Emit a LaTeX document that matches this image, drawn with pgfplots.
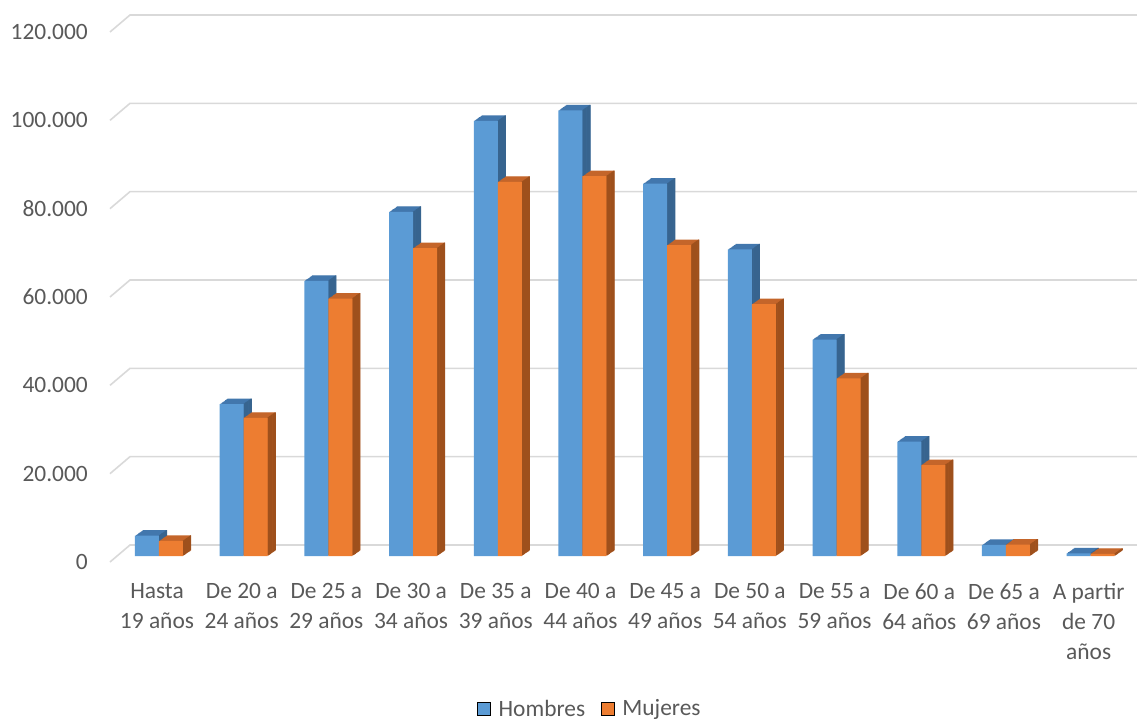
\documentclass[border=0pt]{standalone}
\usepackage{pgfplots}
\pgfplotsset{compat=1.18}
\usepackage{pgfplotstable}
\usepackage{fontspec}
\setmainfont{Carlito}
\definecolor{hblue}{HTML}{5B9BD5}
\definecolor{hbluetop}{HTML}{4277AD}
\definecolor{hblueside}{HTML}{37648F}
\definecolor{morange}{HTML}{ED7D31}
\definecolor{morangetop}{HTML}{C4652A}
\definecolor{morangeside}{HTML}{9E501C}
\definecolor{gridc}{HTML}{D9D9D9}
\definecolor{txtgray}{HTML}{595959}

\pgfplotstableread{
x h m
0 4600 3400
1 34400 31300
2 62300 58300
3 77900 69700
4 98500 84700
5 100900 86000
6 84300 70400
7 69400 57000
8 49000 40200
9 25900 20600
10 2500 2600
11 600 500
}\datatable

\begin{document}
\begin{tikzpicture}
\path[use as bounding box] (0,0) rectangle (1137bp,722bp);
\begin{axis}[
  at={(110bp,166bp)}, anchor=south west,
  scale only axis, width=1027bp, height=530bp,
  xmin=-0.5785, xmax=11.547, ymin=0, ymax=120000,
  clip=false,
  axis line style={draw=none},
  major tick length=0pt,
  tick style={draw=none},
  xtick={0,1,2,3,4,5,6,7,8,9,10,11},
  xticklabels={{Hasta\\19 años},{De 20 a\\24 años},{De 25 a\\29 años},{De 30 a\\34 años},{De 35 a\\39 años},{De 40 a\\44 años},{De 45 a\\49 años},{De 50 a\\54 años},{De 55 a\\59 años},{De 60 a\\64 años},{De 65 a\\69 años},{A partir\\de 70\\años}},
  ytick={0,20000,40000,60000,80000,100000,120000},
  scaled y ticks=false,
  yticklabel={\pgfmathprintnumber[fixed,precision=0,1000 sep={.},assume math mode=true]{\tick}},
  tick label style={font=\fontsize{23.5}{30}\selectfont, text=txtgray},
  xticklabel style={align=center, anchor=north, yshift=-24bp, xshift=-2bp},
  yticklabel style={anchor=east, inner sep=0pt, xshift=-22bp, yshift=-6bp},
  legend style={at={(0.4674,-0.288)}, anchor=center, legend columns=2, draw=none, fill=none,
    font=\fontsize{23.5}{28}\selectfont, text=txtgray,
    /tikz/every even column/.append style={column sep=14bp}},
  legend image code/.code={\fill[#1] (0bp,-6.5bp) rectangle (13bp,6.5bp); \path[draw=none,fill=none] (13bp,0bp) -- (19bp,0bp);},
]
% back wall grid lines
\pgfplotsinvokeforeach{0,20000,40000,60000,80000,100000,120000}{
  \draw[gridc, line width=1.6bp] ([yshift=-6bp]axis cs:-0.5785,#1) -- ([xshift=20bp,yshift=11bp]axis cs:-0.5785,#1) -- ([yshift=11bp]axis cs:11.547,#1);
}
% Hombres: top + side extrusion, then front
\pgfplotsinvokeforeach{1,2,3,4,5,6,7,8,9,10}{
  \addplot[ybar, bar width=24bp, bar shift=-12bp, fill=hbluetop, draw=none, forget plot,
    xshift={0.78bp*#1}, yshift={0.55bp*#1}] table[x=x,y=h]{\datatable};
}
\pgfplotsinvokeforeach{1,2,3,4,5,6,7,8,9,10}{
  \addplot[ybar, bar width=1.2bp, bar shift=-0.3bp, fill=hblueside, draw=none, forget plot,
    xshift={0.78bp*#1}, yshift={0.55bp*#1}] table[x=x,y=h]{\datatable};
}
\addplot[ybar, bar width=24bp, bar shift=-12bp, fill=hblue, draw=none, forget plot] table[x=x,y=h]{\datatable};
% Mujeres
\pgfplotsinvokeforeach{1,2,3,4,5,6,7,8,9,10}{
  \addplot[ybar, bar width=24bp, bar shift=12bp, fill=morangetop, draw=none, forget plot,
    xshift={0.78bp*#1}, yshift={0.55bp*#1}] table[x=x,y=m]{\datatable};
}
\pgfplotsinvokeforeach{1,2,3,4,5,6,7,8,9,10}{
  \addplot[ybar, bar width=1.2bp, bar shift=23.7bp, fill=morangeside, draw=none, forget plot,
    xshift={0.78bp*#1}, yshift={0.55bp*#1}] table[x=x,y=m]{\datatable};
}
\addplot[ybar, bar width=24bp, bar shift=12bp, fill=morange, draw=none, forget plot] table[x=x,y=m]{\datatable};
\addlegendimage{fill=hblue}
\addlegendentry{Hombres}
\addlegendimage{fill=morange}
\addlegendentry{Mujeres}
\end{axis}
\end{tikzpicture}
\end{document}
